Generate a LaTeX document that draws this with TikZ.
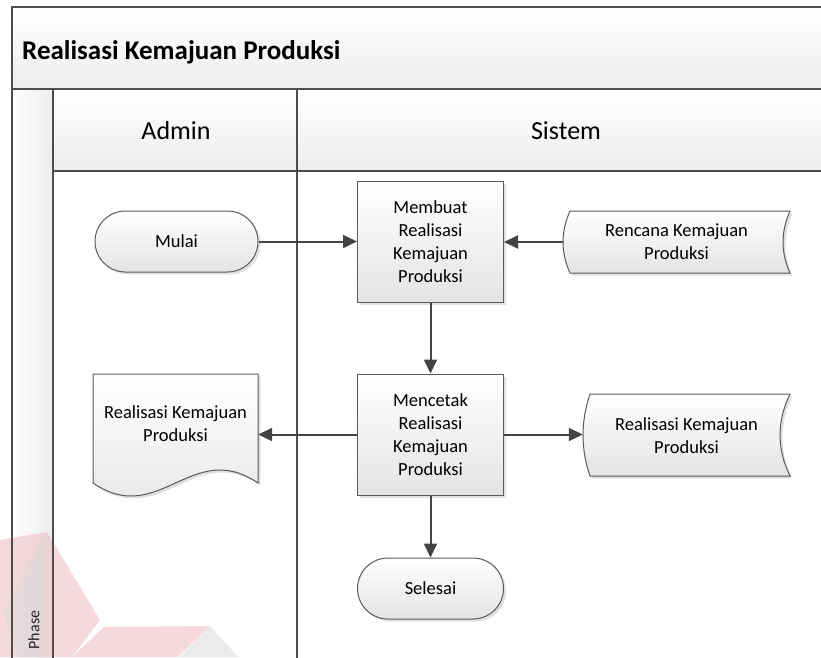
\documentclass[tikz,border=0pt]{standalone}
\usepackage{fontspec}
\setmainfont{Carlito}
\usetikzlibrary{arrows.meta,shapes.misc,shadows}
\definecolor{linec}{HTML}{4D4D4D}
\definecolor{shapec}{HTML}{5A5A5A}
\definecolor{arrowc}{HTML}{444444}
\definecolor{shadeb}{HTML}{E4E4E4}
\definecolor{bandb}{HTML}{EDEDED}
\definecolor{wmpink}{HTML}{EDB9C0}
\definecolor{wmgrey}{HTML}{DADADA}

\begin{document}
\begin{tikzpicture}[x=1pt,y=-1pt,
  frame/.style={draw=linec,line width=1.7pt},
  shapebox/.style={draw=shapec,line width=1pt,top color=white,bottom color=shadeb,
    drop shadow={shadow xshift=2.5pt,shadow yshift=-2.5pt,fill=black,opacity=0.12}},
  txt/.style={font=\fontsize{18.5}{23}\selectfont,align=center,inner sep=0pt},
  proc/.style={shapebox,txt,rectangle,minimum width=146pt,minimum height=121pt},
  term/.style={shapebox,txt,rounded rectangle,minimum width=163pt,minimum height=61pt},
  flow/.style={draw=arrowc,line width=2pt,-{Triangle[length=14pt,width=13pt]}},
  lanehead/.style={font=\fontsize{26}{30}\selectfont,inner sep=0pt},
]
\useasboundingbox (0,0) rectangle (821,657);

% header bands and phase column
\path[top color=white,bottom color=bandb] (12,7) rectangle (830,89);
\path[top color=white,bottom color=bandb] (53,89) rectangle (830,171);
\path[left color=white,right color=bandb] (12,89) rectangle (53,665);

% faint logo watermark
\begin{scope}[fill opacity=0.55]
  \fill[wmpink] (0,540) -- (47,532) -- (100,620) -- (72,657) -- (0,657) -- cycle;
  \fill[wmgrey] (47,532) -- (4,612) -- (18,657) -- (44,657) -- cycle;
  \fill[wmpink] (72,657) -- (104,627) -- (210,626) -- (178,657) -- cycle;
  \fill[wmgrey] (210,626) -- (180,657) -- (238,657) -- cycle;
\end{scope}

% pool frame and lane dividers
\draw[frame] (830,7) -- (12,7) -- (12,665);
\draw[frame] (12,89) -- (830,89);
\draw[frame] (53,171) -- (830,171);
\draw[frame] (53,89) -- (53,665);
\draw[frame] (297,89) -- (297,665);

\node[anchor=west,font=\fontsize{27}{31}\selectfont\bfseries,inner sep=0pt] (title) at (22,52) {Realisasi Kemajuan Produksi};
\node[lanehead] (admin) at (176,131) {Admin};
\node[lanehead] (sistem) at (566,131) {Sistem};
\node[rotate=90,font=\fontsize{16}{18}\selectfont,inner sep=0pt,text=black!85] (phase) at (34,630) {Phase};

% stored data: Rencana Kemajuan Produksi
\path[shapebox] (570,211) -- (790,211) .. controls (780.7,231.7) and (780.7,252.3) .. (790,273)
  -- (570,273) .. controls (560.7,252.3) and (560.7,231.7) .. (570,211) -- cycle;
% stored data: Realisasi Kemajuan Produksi
\path[shapebox] (590,394) -- (790,394) .. controls (776.7,421) and (776.7,449) .. (790,476)
  -- (590,476) .. controls (580.7,449) and (580.7,421) .. (590,394) -- cycle;
% printed document
\path[shapebox] (93,374) -- (258,374) -- (258,483) .. controls (192,438) and (159,528) .. (93,483) -- cycle;

% flow nodes
\node[term] (mulai) at (176.5,241.5) {Mulai};
\node[proc] (membuat) at (430.5,241.5) {Membuat\\Realisasi\\Kemajuan\\Produksi};
\node[proc] (mencetak) at (430.5,434.5) {Mencetak\\Realisasi\\Kemajuan\\Produksi};
\node[term,minimum width=146pt] (selesai) at (430.5,588.5) {Selesai};
\node[txt,minimum width=227pt,minimum height=62pt] (rencana) at (676.5,242) {Rencana Kemajuan\\Produksi};
\node[txt,minimum width=207pt,minimum height=82pt] (hasil) at (686.5,436) {Realisasi Kemajuan\\Produksi};
\node[txt,minimum width=165pt,minimum height=60pt] (dokumen) at (175.5,424) {Realisasi Kemajuan\\Produksi};

% connectors
\draw[flow] (mulai.east) -- (mulai.east -| membuat.west);
\draw[flow] (rencana.west) -- (rencana.west -| membuat.east);
\draw[flow] (membuat.south) -- (mencetak.north);
\draw[flow] (mencetak.west) -- (mencetak.west -| dokumen.east);
\draw[flow] (mencetak.east) -- (mencetak.east -| hasil.west);
\draw[flow] (mencetak.south) -- (selesai.north);
\end{tikzpicture}
\end{document}
